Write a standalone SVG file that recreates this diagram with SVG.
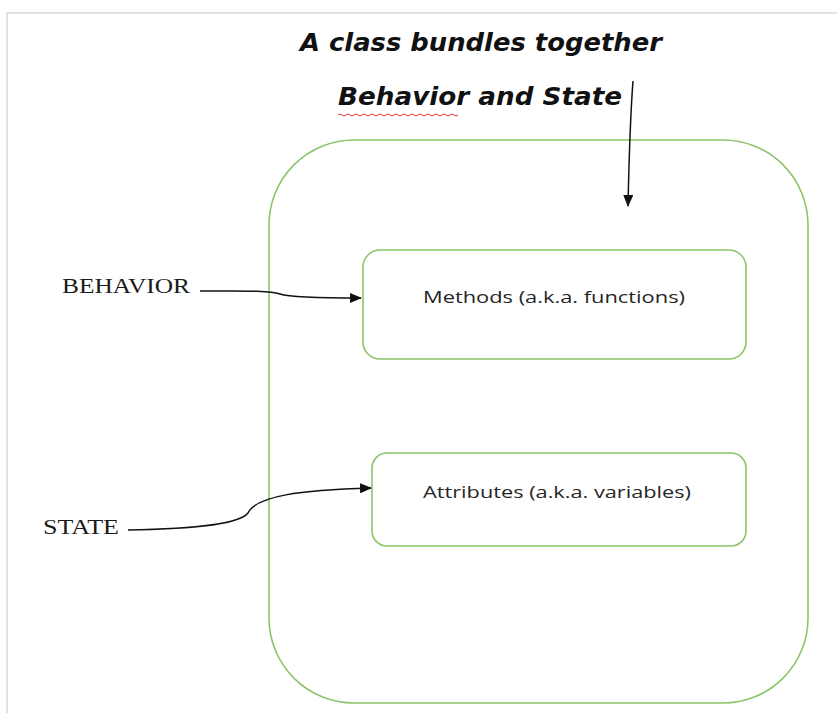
<svg xmlns="http://www.w3.org/2000/svg" width="837" height="713" viewBox="0 0 837 713">
<defs>
<style>
.box{fill:#ffffff;stroke:#8cc46a;stroke-width:1.6}
.lbl{font-family:"Open Sans","Liberation Sans",sans-serif;font-size:16px;fill:#262626}
.side{font-family:"Liberation Serif",serif;font-size:20px;fill:#1a1a1a}
.title{font-family:"DejaVu Sans",sans-serif;font-weight:bold;font-style:italic;font-size:24px;fill:#111}
.conn{fill:none;stroke:#111;stroke-width:1.5}
</style>
<marker id="ah" markerWidth="12" markerHeight="10" refX="11" refY="5" orient="auto" markerUnits="userSpaceOnUse">
<path d="M0,0 L12,5 L0,10 Z" fill="#111"/>
</marker>
</defs>
<rect width="837" height="713" fill="#fff"/>
<path d="M7,713 L7,13 L837,13" fill="none" stroke="#d9d9d9" stroke-width="1.5"/>
<g id="title">
<text class="title" x="300" y="51" textLength="362" lengthAdjust="spacingAndGlyphs">A class bundles together</text>
<text class="title" x="338" y="105" textLength="284" lengthAdjust="spacingAndGlyphs">Behavior and State</text>
<path d="M338,115 q2,-2 4,0 t4,0 t4,0 t4,0 t4,0 t4,0 t4,0 t4,0 t4,0 t4,0 t4,0 t4,0 t4,0 t4,0 t4,0 t4,0 t4,0 t4,0 t4,0 t4,0 t4,0 t4,0 t4,0 t4,0 t4,0 t4,0 t4,0 t4,0 t4,0 t4,0" fill="none" stroke="#e03030" stroke-width="1"/>
</g>
<g id="class">
<rect class="box" x="269" y="140" width="539" height="563" rx="85" ry="85"/>
</g>
<g id="methods">
<rect class="box" x="363" y="250" width="383" height="109" rx="17" ry="17"/>
<text class="lbl" x="554" y="303" text-anchor="middle" textLength="262" lengthAdjust="spacingAndGlyphs">Methods (a.k.a. functions)</text>
</g>
<g id="attributes">
<rect class="box" x="372" y="453" width="374" height="93" rx="15" ry="15"/>
<text class="lbl" x="557" y="498" text-anchor="middle" textLength="268" lengthAdjust="spacingAndGlyphs">Attributes (a.k.a. variables)</text>
</g>
<g id="behavior">
<text class="side" x="62" y="293" textLength="128" lengthAdjust="spacingAndGlyphs">BEHAVIOR</text>
</g>
<g id="state">
<text class="side" x="43" y="534" textLength="76" lengthAdjust="spacingAndGlyphs">STATE</text>
</g>
<g id="connectors">
<path class="conn" d="M200,291 C240,291 268,290 280,294 C292,298 330,298 361,298" marker-end="url(#ah)"/>
<path class="conn" d="M128,530 C180,529 238,526 248,513 C256,496 300,490 371,488" marker-end="url(#ah)"/>
<path class="conn" d="M633,81 C630,120 629,160 628,206" marker-end="url(#ah)"/>
</g>
</svg>
